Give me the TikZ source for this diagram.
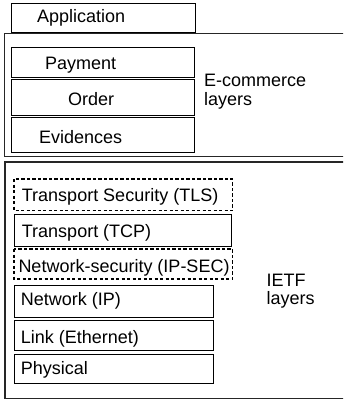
\documentclass[tikz,border=0pt]{standalone}
\usepackage{fontspec}
\setmainfont{Liberation Sans}
\begin{document}
\begin{tikzpicture}[x=1pt,y=-1pt,
  frame/.style={line width=1.3pt, draw=black!85},
  box/.style={draw, line width=0.9pt},
  dotbox/.style={draw, line width=1.1pt, dash pattern=on 3.2pt off 2.3pt},
  lbl/.style={anchor=base west, inner sep=0pt, font=\fontsize{18}{20}\selectfont}]
\clip (0,0) rectangle (343,401);
\fill[white] (0,0) rectangle (343,401);
% outer frames (open on the right)
\draw[frame] (350,33.5) -- (4.5,33.5) -- (4.5,156.5) -- (350,156.5);
\draw[frame] (350,162) -- (5,162) -- (5,398.5) -- (350,398.5);
% e-commerce boxes
\draw[box] (11,3) rectangle (195,32);
\draw[box] (11,47) rectangle (194,77);
\draw[box] (11,79) rectangle (194,115);
\draw[box] (11,117.5) rectangle (194,152.5);
% IETF boxes
\draw[dotbox] (14,179) rectangle (232.5,210.5);
\draw[box] (14,214) rectangle (231.5,246);
\draw[dotbox] (14,249) rectangle (232.5,279);
\draw[box] (14,285) rectangle (213,317);
\draw[box] (14,320) rectangle (213,350);
\draw[box] (14,354) rectangle (213,383.5);
% texts
\node[lbl] (app) at (37,23) {Application};
\node[lbl] (pay) at (45,70) {Payment};
\node[lbl] (ord) at (68,106) {Order};
\node[lbl] (evi) at (39,143) {Evidences};
\node[lbl] (ec1) at (204,87) {E-commerce};
\node[lbl] (ec2) at (204,106) {layers};
\node[lbl] (tls) at (21.7,201.5) {Transport Security (TLS)};
\node[lbl] (tcp) at (21.7,237) {Transport (TCP)};
\node[lbl] (ipsec) at (18.3,272) {Network-security (IP-SEC)};
\node[lbl] (ip) at (20.7,305) {Network (IP)};
\node[lbl] (link) at (20.7,343) {Link (Ethernet)};
\node[lbl] (phy) at (20.7,374) {Physical};
\node[lbl] (ietf1) at (266.5,286) {IETF};
\node[lbl] (ietf2) at (266.5,304) {layers};
\end{tikzpicture}
\end{document}
